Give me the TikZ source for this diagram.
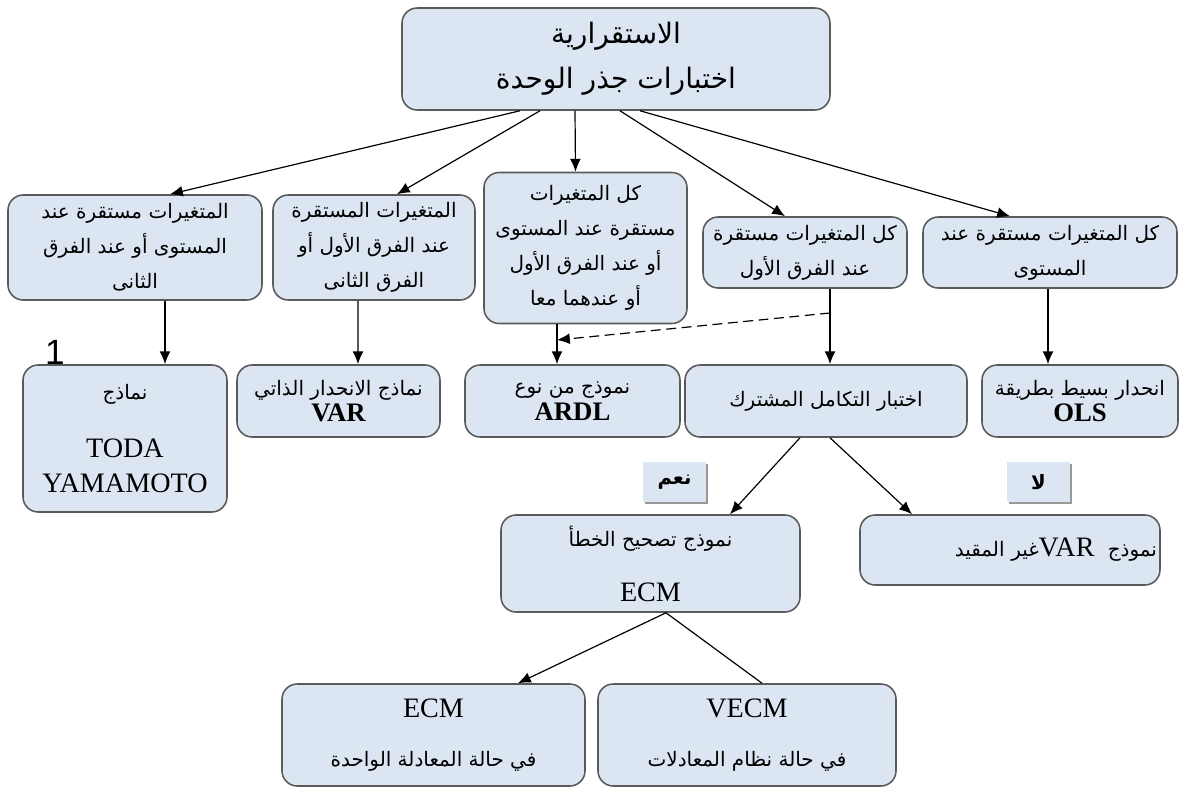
\documentclass[tikz,border=0pt]{standalone}
\usepackage{fontspec}
\usetikzlibrary{arrows.meta,calc,shadows}
\TeXXeTstate=1
\newfontfamily\arabicfont[Script=Arabic]{DejaVu Sans}
\newfontfamily\latinserif{Liberation Serif}
\newfontfamily\latinsans{Liberation Sans}
\newcommand\artxt[1]{\beginR #1\endR}
\definecolor{boxblue}{HTML}{DCE6F2}
\definecolor{boxedge}{HTML}{5A5A5A}
\def\pxu{0.025cm}
\tikzset{
  stbox/.style={draw=boxedge, line width=1.1pt, fill=boxblue, rounded corners=0.38cm,
    align=center, inner sep=0pt, font=\arabicfont\fontsize{14.2}{25}\selectfont},
  bsize/.style 2 args={minimum width=#1*\pxu, minimum height=#2*\pxu},
  arr/.style={-{Latex[length=3.2mm,width=2.7mm]}, line width=0.85pt},
  anslbl/.style={fill=boxblue, inner sep=0pt, minimum width=63*\pxu, minimum height=40*\pxu,
    drop shadow={shadow xshift=1.2pt, shadow yshift=-1.2pt, fill=black!40, opacity=1},
    font=\arabicfont\bfseries\fontsize{14}{16}\selectfont}
}
\begin{document}
\begin{tikzpicture}[x=0.025cm, y=-0.025cm]
  \useasboundingbox (0,0) rectangle (1184,789);

  %% root
  \node[stbox, bsize={428}{102}, font=\arabicfont\fontsize{20}{32}\selectfont] (top) at (616,59)
    {\artxt{الاستقرارية}\\ \artxt{اختبارات جذر الوحدة}};

  %% first row: cases
  \node[stbox, bsize={254}{105}] (lvlsec) at (135,247.5)
    {\artxt{المتغيرات مستقرة عند}\\ \artxt{المستوى أو عند الفرق}\\ \artxt{الثانى}};
  \node[stbox, bsize={202}{105}] (fstsec) at (374,247.5)
    {\artxt{المتغيرات المستقرة}\\ \artxt{عند الفرق الأول أو}\\ \artxt{الفرق الثانى}};
  \node[stbox, bsize={203}{151}] (allmix) at (585.5,248)
    {\artxt{كل المتغيرات}\\ \artxt{مستقرة عند المستوى}\\ \artxt{أو عند الفرق الأول}\\ \artxt{أو عندهما معا}};
  \node[stbox, bsize={204}{71}] (allfst) at (805,252.5)
    {\artxt{كل المتغيرات مستقرة}\\ \artxt{عند الفرق الأول}};
  \node[stbox, bsize={254}{71}] (alllvl) at (1050,252.5)
    {\artxt{كل المتغيرات مستقرة عند}\\ \artxt{المستوى}};

  %% second row: models
  \node[stbox, bsize={204}{147}] (toda) at (125,438.5)
    {\artxt{نماذج}\\[16pt] {\latinserif\fontsize{20}{26}\selectfont TODA}\\ {\latinserif\fontsize{20}{26}\selectfont YAMAMOTO}};
  \node[stbox, bsize={203}{72}] (var) at (338.5,401)
    {\artxt{نماذج الانحدار الذاتي}\\[-6pt] {\latinserif\bfseries\fontsize{19}{22}\selectfont VAR}};
  \node[stbox, bsize={215}{72}] (ardl) at (572.5,401)
    {\artxt{نموذج من نوع}\\[-6pt] {\latinserif\bfseries\fontsize{19}{22}\selectfont ARDL}};
  \node[stbox, bsize={282}{72}] (coint) at (826,401)
    {\artxt{اختبار التكامل المشترك}};
  \node[stbox, bsize={196}{72}] (ols) at (1080,401)
    {\artxt{انحدار بسيط بطريقة}\\[-6pt] {\latinserif\bfseries\fontsize{19}{22}\selectfont OLS}};

  \node[font=\latinsans\fontsize{25}{25}\selectfont] (one) at (55,352) {1};

  %% answers
  \node[anslbl] (yes) at (674.5,482) {\artxt{نعم}};
  \node[anslbl] (no) at (1038.5,482) {\artxt{لا}};

  %% third row
  \node[stbox, bsize={299}{97}] (ecm) at (650.5,563.5)
    {\artxt{نموذج تصحيح الخطأ}\\[14pt] {\latinserif\fontsize{20}{22}\selectfont ECM}};
  \node[stbox, bsize={300}{70}, text width=294*\pxu, align=right] (uvar) at (1010,550)
    {\artxt{نموذج \ {\latinserif\fontsize{20}{22}\selectfont VAR}غير المقيد}};

  %% fourth row
  \node[stbox, bsize={303}{102}] (ecmone) at (433.5,735)
    {{\latinserif\fontsize{20}{22}\selectfont ECM}\\[10pt] \artxt{في حالة المعادلة الواحدة}};
  \node[stbox, bsize={298}{102}] (vecm) at (747,735)
    {{\latinserif\fontsize{20}{22}\selectfont VECM}\\[10pt] \artxt{في حالة نظام المعادلات}};

  %% arrows from the root
  \foreach \b/\sa/\sb in {lvlsec/-96/35, fstsec/-76/23, allmix/-41/-10, allfst/4/-20, alllvl/24/-40}
    \draw[arr] ($(top.south)+(\sa,0)$) -- ($(\b.north)+(\sb,0)$);

  %% arrows down to the models
  \foreach \a/\b/\sa/\sb in {lvlsec/toda/30/40, fstsec/var/-16/19.5, allmix/ardl/-28.5/-15.5,
      allfst/coint/25/4, alllvl/ols/-2/-32}
    \draw[arr] ($(\a.south)+(\sa,0)$) -- ($(\b.north)+(\sb,0)$);

  \coordinate (dfrom) at (830,313);
  \coordinate (dto) at (557,340);
  \draw[arr, dash pattern=on 7pt off 4pt] (dfrom) -- (dto);

  %% cointegration test
  \draw[arr] ($(coint.south)+(-26,0)$) -- ($(ecm.north)+(79.5,0)$);
  \draw[arr] ($(coint.south)+(4,0)$) -- ($(uvar.north)+(-98,0)$);

  %% error correction
  \draw[arr] ($(ecm.south)+(15.5,0)$) -- ($(ecmone.north)+(84.5,0)$);
  \draw[line width=0.85pt] ($(ecm.south)+(15.5,0)$) -- ($(vecm.north)+(15,0)$);
\end{tikzpicture}
\end{document}
